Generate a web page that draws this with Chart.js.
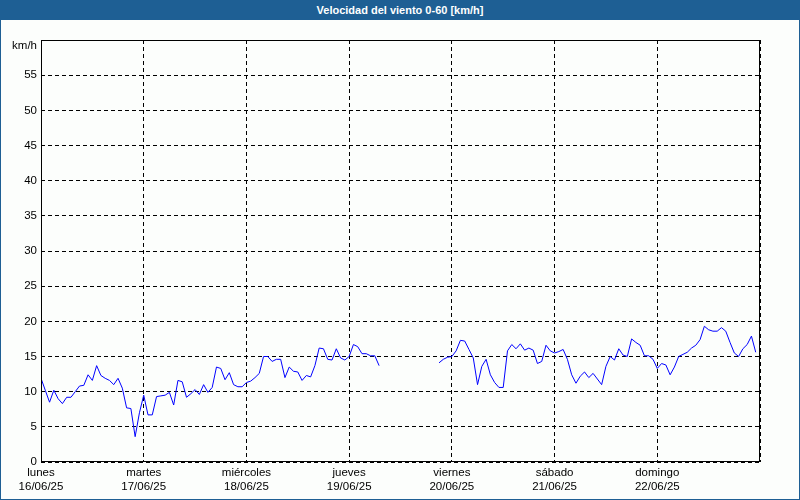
<!DOCTYPE html>
<html>
<head>
<meta charset="utf-8">
<script src="https://cdn.jsdelivr.net/npm/chart.js@4.4.0/dist/chart.umd.min.js"></script>
<style>
    html, body { margin: 0; padding: 0; }
    body { width: 800px; height: 500px; position: relative; background: #fcfefc; overflow: hidden; }
    #frame { position: absolute; left: 0; top: 0; width: 798px; height: 498px; border: 1px solid #1e5f94; }
    #title {
        position: absolute; left: 0; top: 0; width: 800px; height: 20px;
        background: #1e5f94; color: #fff; text-align: center;
        font: bold 11px "Liberation Sans", Arial, sans-serif; line-height: 20px;
    }
    canvas { position: absolute; left: 0; top: 0; }
</style>
</head>
<body>
<div id="frame"></div>
<canvas id="windChart" width="800" height="500"></canvas>
<div id="title">Velocidad del viento 0-60 [km/h]</div>
<script>
const dayNames = ["lunes", "martes", "miércoles", "jueves", "viernes", "sábado", "domingo"];
const dayDates = ["16/06/25", "17/06/25", "18/06/25", "19/06/25", "20/06/25", "21/06/25", "22/06/25"];

// hourly wind speed (km/h), one array per day, null = no data
const windMon = [11.9, 10.2, 8.5, 10.2, 9.0, 8.3, 9.2, 9.2, 10.0, 10.8, 10.9, 12.4, 11.6, 13.7, 12.3, 11.9, 11.6, 11.0, 11.9, 10.5, 7.7, 7.6, 3.6, 7.0];
const windTue = [9.5, 6.7, 6.7, 9.3, 9.4, 9.5, 9.9, 8.1, 11.6, 11.4, 9.2, 9.7, 10.3, 9.6, 11.0, 9.9, 10.6, 13.5, 13.3, 11.7, 12.7, 11.0, 10.7, 10.7];
const windWed = [11.3, 11.5, 12.0, 12.6, 15.0, 15.0, 14.3, 14.6, 14.6, 12.0, 13.5, 12.9, 12.8, 11.6, 12.3, 12.1, 13.7, 16.2, 16.1, 14.6, 14.5, 16.1, 14.8, 14.5];
const windThu = [15.0, 16.7, 16.4, 15.4, 15.4, 15.1, 15.1, 13.7, null, null, null, null, null, null, null, null, null, null, null, null, null, 14.1, 14.6, 14.9];
const windFri = [15.0, 15.8, 17.3, 17.2, 16.0, 14.8, 11.0, 13.6, 14.6, 12.4, 11.3, 10.6, 10.6, 15.8, 16.7, 16.1, 16.8, 15.9, 16.2, 15.9, 14.0, 14.3, 16.6, 15.8];
const windSat = [15.5, 15.7, 16.0, 14.6, 12.4, 11.2, 12.2, 12.8, 12.0, 12.6, 11.8, 11.0, 13.6, 15.0, 14.5, 16.1, 15.2, 15.0, 17.5, 17.0, 16.6, 15.1, 15.1, 14.6];
const windSun = [13.3, 14.0, 13.8, 12.4, 13.5, 15.0, 15.3, 15.6, 16.2, 16.6, 17.4, 19.3, 18.8, 18.6, 18.6, 19.1, 18.6, 17.0, 15.5, 15.0, 16.1, 16.7, 17.9, 15.6];

const yMin = 0, yMax = 60, yStep = 5;

const points = [];
[windMon, windTue, windWed, windThu, windFri, windSat, windSun].forEach((day, d) => {
    day.forEach((v, h) => points.push({ x: d * 24 + h, y: v }));
});

const tickFont = { family: "'Liberation Sans', Arial, sans-serif", size: 11.5 };

// solid frame round the plot + unit label
const framePlugin = {
    id: "frame",
    afterDraw(chart) {
        const { ctx, chartArea: a } = chart;
        ctx.save();
        ctx.strokeStyle = "#000";
        ctx.lineWidth = 1;
        ctx.strokeRect(Math.round(a.left) + 0.5, Math.round(a.top) + 0.5,
            Math.round(a.right - a.left) - 1, Math.round(a.bottom - a.top) - 1);
        ctx.fillStyle = "#000";
        ctx.font = "11.5px 'Liberation Sans', Arial, sans-serif";
        ctx.textAlign = "right";
        ctx.textBaseline = "middle";
        ctx.fillText("km/h", a.left - 4, a.top + 6);
        ctx.restore();
    }
};

Chart.defaults.color = "#000";

new Chart(document.getElementById("windChart"), {
    type: "line",
    data: {
        datasets: [{
            data: points,
            borderColor: "#0000ff",
            borderWidth: 1,
            pointRadius: 0,
            tension: 0,
            spanGaps: false
        }]
    },
    options: {
        responsive: false,
        animation: false,
        devicePixelRatio: 1,
        layout: { padding: { top: 40, right: 40, left: 0, bottom: 0 } },
        plugins: { legend: { display: false }, tooltip: { enabled: false } },
        scales: {
            x: {
                type: "linear",
                min: 0,
                max: 168,
                afterFit: s => { s.height = 38; },
                ticks: {
                    stepSize: 24,
                    autoSkip: false,
                    maxRotation: 0,
                    padding: 4,
                    font: tickFont,
                    callback: v => {
                        const d = v / 24;
                        return d < dayNames.length ? [dayNames[d], dayDates[d]] : "";
                    }
                },
                grid: { color: "#000", lineWidth: 1, drawTicks: false },
                border: { display: false, dash: [4, 3] }
            },
            y: {
                min: yMin,
                max: yMax,
                afterFit: s => { s.width = 41; },
                ticks: {
                    stepSize: yStep,
                    padding: 4,
                    font: tickFont,
                    callback: v => (v === yMax ? "" : v)
                },
                grid: { color: "#000", lineWidth: 1, drawTicks: false },
                border: { display: false, dash: [4, 3] }
            }
        }
    },
    plugins: [framePlugin]
});
</script>
</body>
</html>
